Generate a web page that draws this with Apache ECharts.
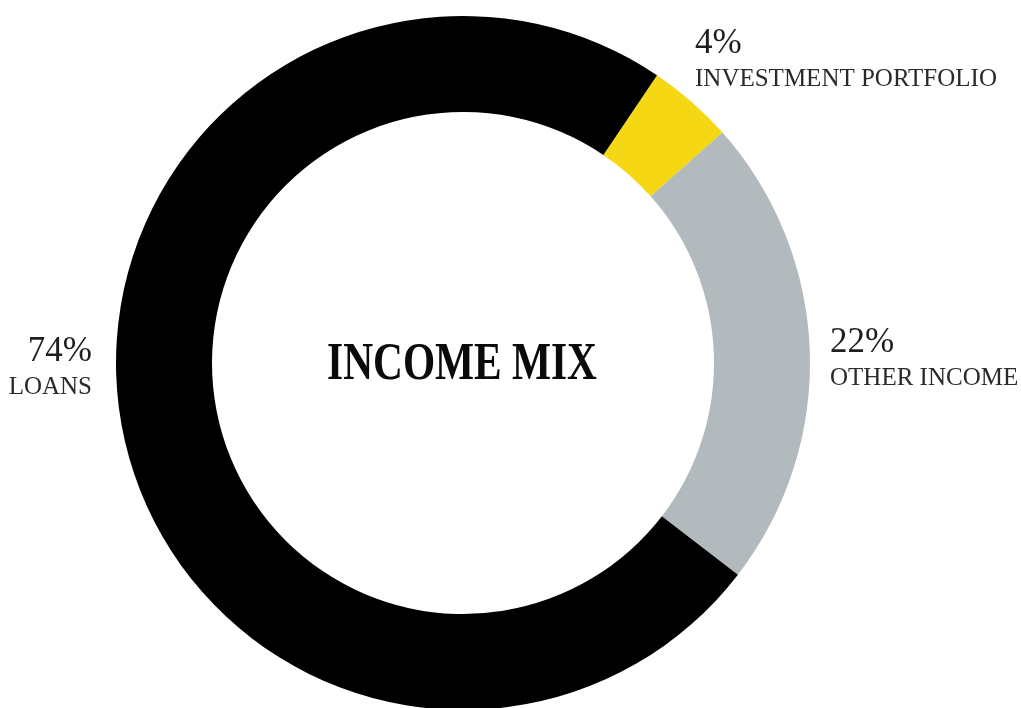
<!DOCTYPE html>
<html>
<head>
<meta charset="utf-8">
<title>Income Mix</title>
<script src="https://cdn.jsdelivr.net/npm/echarts@6/dist/echarts.min.js"></script>
<style>
  html, body { margin: 0; padding: 0; background: #ffffff; }
  #chart { width: 1021px; height: 708px; }
</style>
</head>
<body>
<div id="chart"></div>
<script>
// Income sources, in clockwise order from the yellow slice
const categories = ['INVESTMENT PORTFOLIO', 'OTHER INCOME', 'LOANS'];
const shares = [4, 22, 74];
const sliceColors = ['#f5d714', '#b3babe', '#000000'];
const centerTitle = 'INCOME MIX';

// Where each slice's caption sits on the page
const captionSpots = [
  { x: 695, y: 26, align: 'left' },
  { x: 830, y: 325, align: 'left' },
  { x: 92, y: 334, align: 'right' }
];

const serif = '"Liberation Serif", "Times New Roman", serif';

const chart = echarts.init(document.getElementById('chart'), null, { renderer: 'canvas' });

chart.setOption({
  backgroundColor: '#ffffff',
  animation: false,
  graphic: [{
    type: 'text',
    x: 462,
    y: 365,
    scaleX: 0.78,
    silent: true,
    style: {
      text: centerTitle,
      x: 0,
      y: 0,
      font: 'bold 53px ' + serif,
      fill: '#0a0a0a',
      align: 'center',
      verticalAlign: 'middle',
      textAlign: 'center',
      textVerticalAlign: 'middle'
    }
  }],
  series: [{
    type: 'pie',
    center: [463, 363],
    radius: [251, 347],
    startAngle: 56,
    clockwise: true,
    avoidLabelOverlap: false,
    silent: true,
    emphasis: { disabled: true },
    itemStyle: { borderWidth: 0 },
    data: categories.map((name, i) => ({
      name: name,
      value: shares[i],
      itemStyle: { color: sliceColors[i] }
    })),
    label: {
      show: true,
      position: 'outside',
      formatter: '{pct|{c}%}\n{name|{b}}',
      rich: {
        pct: {
          fontFamily: serif,
          fontSize: 35,
          lineHeight: 36,
          color: '#1e1e1e'
        },
        name: {
          fontFamily: serif,
          fontSize: 25,
          lineHeight: 34,
          color: '#2a2a2a'
        }
      }
    },
    labelLine: { show: false },
    labelLayout: function (p) {
      const spot = captionSpots[p.dataIndex];
      return { x: spot.x, y: spot.y, align: spot.align, verticalAlign: 'top' };
    }
  }]
});
</script>
</body>
</html>
